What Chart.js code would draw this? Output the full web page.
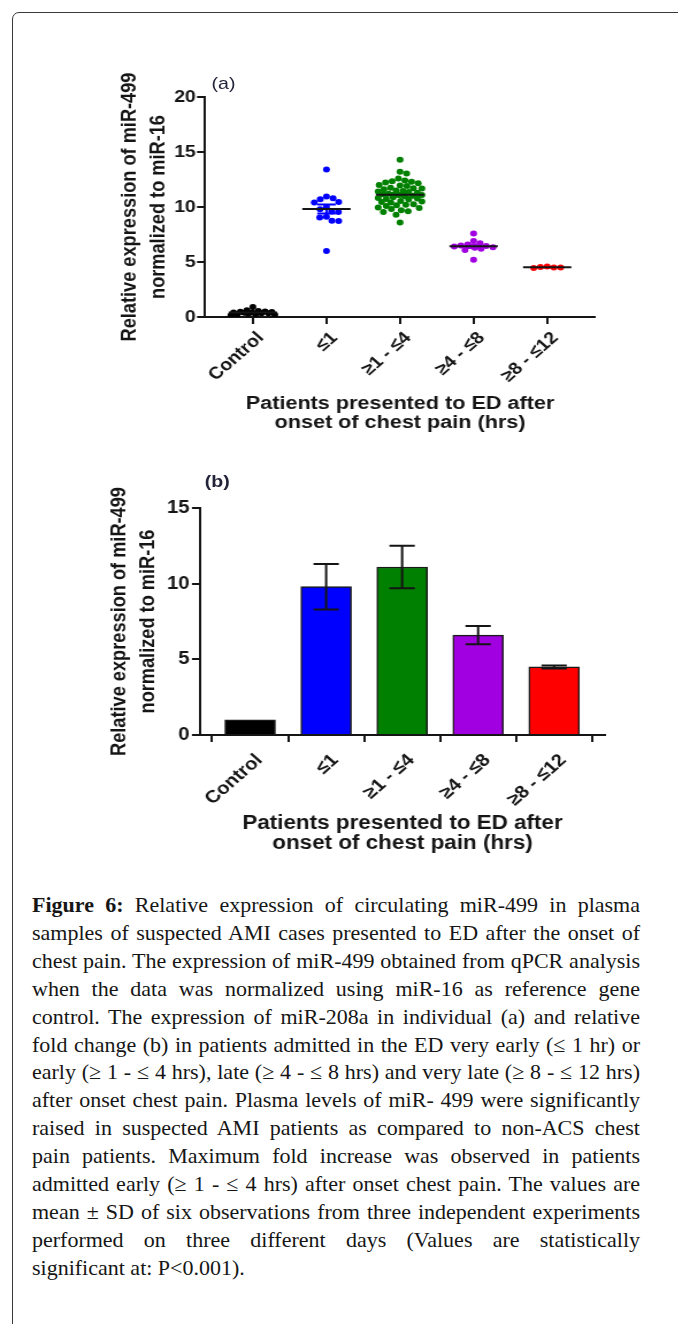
<!DOCTYPE html>
<html>
<head>
<meta charset="utf-8">
<script src="https://cdn.jsdelivr.net/npm/chart.js@4.4.1/dist/chart.umd.min.js"></script>
<style>
  html, body { margin: 0; padding: 0; background: #fff; }
  body { width: 678px; height: 1324px; position: relative; overflow: hidden; }
  #frame {
    position: absolute; left: 12px; top: 12px; width: 720px; height: 1360px;
    border: 1.5px solid #3a3a3a; border-radius: 7px; box-sizing: border-box;
  }
  /* both panels are drawn slightly widened, like the figure artwork */
  .panel { position: absolute; left: 0; width: 590px; transform-origin: 0 0; transform: scaleX(1.15); }
  #panelA { top: 60px; height: 390px; }
  #panelB { top: 470px; height: 400px; }
  .panel canvas { position: absolute; left: 0; top: 0; }
  .tag { position: absolute; font-family: 'Liberation Sans', Arial, sans-serif; color: #23233a; font-size: 17px; line-height: 20px; }
  #tagA { left: 184px; top: 14px; }
  #tagB { left: 178px; top: 2px; font-weight: bold; }
  #caption {
    position: absolute; left: 32px; top: 891px; width: 608px;
    font-family: 'Liberation Serif', 'Times New Roman', serif; font-size: 22px; line-height: 27.9px; color: #161616;
  }
  #caption .ln { white-space: nowrap; text-align: justify; text-align-last: justify; }
  #caption .ln.last { text-align-last: left; }
</style>
</head>
<body>
<div id="frame"></div>

<div class="panel" id="panelA">
  <canvas id="chartA" width="590" height="390"></canvas>
  <div class="tag" id="tagA">(a)</div>
</div>

<div class="panel" id="panelB">
  <canvas id="chartB" width="590" height="400"></canvas>
  <div class="tag" id="tagB">(b)</div>
</div>

<div id="caption">
  <div class="ln"><b>Figure 6:</b> Relative expression of circulating miR-499 in plasma</div>
  <div class="ln">samples of suspected AMI cases presented to ED after the onset of</div>
  <div class="ln">chest pain. The expression of miR-499 obtained from qPCR analysis</div>
  <div class="ln">when the data was normalized using miR-16 as reference gene</div>
  <div class="ln">control. The expression of miR-208a in individual (a) and relative</div>
  <div class="ln">fold change (b) in patients admitted in the ED very early (≤ 1 hr) or</div>
  <div class="ln">early (≥ 1 - ≤ 4 hrs), late (≥ 4 - ≤ 8 hrs) and very late (≥ 8 - ≤ 12 hrs)</div>
  <div class="ln">after onset chest pain. Plasma levels of miR- 499 were significantly</div>
  <div class="ln">raised in suspected AMI patients as compared to non-ACS chest</div>
  <div class="ln">pain patients. Maximum fold increase was observed in patients</div>
  <div class="ln">admitted early (≥ 1 - ≤ 4 hrs) after onset chest pain. The values are</div>
  <div class="ln">mean ± SD of six observations from three independent experiments</div>
  <div class="ln">performed on three different days (Values are statistically</div>
  <div class="ln last">significant at: P&lt;0.001).</div>
</div>

<script>
// ---------------- data ----------------
const categories = ['Control', '≤1', '≥1 - ≤4', '≥4 - ≤8', '≥8 - ≤12'];
const groupColors = ['#000000', '#0000ff', '#008000', '#a100e0', '#ff0000'];

// (a) individual relative expression values per group
const controlValues = [0.92, 0.62, 0.55, 0.5, 0.47, 0.45, 0.42, 0.4,
                       0.38, 0.35, 0.33, 0.3, 0.28, 0.25, 0.2, 0.15];
const upTo1hValues = [13.4, 10.95, 10.8, 10.7, 10.45, 10.4, 10.0, 9.8, 9.6, 9.55,
                      9.12, 9.05, 8.75, 8.72, 6.0];
const from1to4hValues = [14.3, 13.2, 13.05, 12.6, 12.42, 12.35, 12.3, 12.22, 12.15,
                         12.0, 11.95, 11.9, 11.75, 11.7, 11.68, 11.62,
                         11.5, 11.45, 11.4, 11.36, 11.3, 11.2, 11.15, 11.1, 11.08, 11.02, 10.98,
                         10.88, 10.82, 10.78, 10.72, 10.68, 10.55, 10.5, 10.45, 10.4,
                         10.25, 10.2, 10.15, 10.1, 9.95, 9.9, 9.82, 9.7, 9.62, 9.55, 9.3, 8.6];
const from4to8hValues = [7.6, 6.9, 6.7, 6.6, 6.5, 6.45, 6.4, 6.35, 6.3, 6.2, 6.1, 5.2];
const from8to12hValues = [4.6, 4.55, 4.5, 4.5, 4.45];

// (b) relative fold change, mean and SD
const foldMeans = [1.0, 9.8, 11.1, 6.6, 4.5];
const foldSD = [0, 1.5, 1.4, 0.6, 0.1];

const yTicksA = [0, 5, 10, 15, 20];
const yTicksB = [0, 5, 10, 15];

const xTitle = ['Patients presented to ED after', 'onset of chest pain (hrs)'];
const yTitle = ['Relative expression of miR-499', 'normalized to miR-16'];

// ---------------- styling helpers ----------------
const FONT = "'Liberation Sans', Arial, Helvetica, sans-serif";
const INK = '#151515';
const STRETCH = 1.15;   // horizontal widening applied to the panels by CSS

function axisLines(tickLen) {
  return {
    grid: { drawOnChartArea: false, drawTicks: true, tickLength: tickLen, color: INK, lineWidth: 2 },
    border: { display: true, color: INK, width: 2 }
  };
}

// spreads the dots of each group sideways so they do not overlap (bee-swarm),
// keeping every column within a fixed half-width
const swarmPlugin = {
  id: 'swarm',
  afterDatasetsUpdate(chart, args, opts) {
    const gap = opts.spacing;
    const limit = opts.maxHalf;
    chart.data.datasets.forEach((ds, di) => {
      const pts = chart.getDatasetMeta(di).data;
      const order = pts.map((p, k) => k).sort((a, b) => pts[a].y - pts[b].y);
      const placed = [];
      order.forEach((k, n) => {
        const p = pts[k];
        const cands = [0];
        placed.forEach(q => {
          const dy = Math.abs(q.y - p.y);
          if (dy < gap) {
            const w = Math.sqrt(gap * gap - dy * dy) / STRETCH;
            cands.push(q.dx + w, q.dx - w);
          }
        });
        const side = n % 2 ? -1 : 1;
        cands.sort((a, b) => (Math.abs(a) - Math.abs(b)) || (side * (b - a)));
        const dist = (q, c) => Math.hypot((q.dx - c) * STRETCH, q.y - p.y);
        const ok = c => Math.abs(c) <= limit && placed.every(q => dist(q, c) >= gap - 0.01);
        let dx = cands.find(ok);
        if (dx === undefined) {
          // column is full at this height: use the least crowded slot
          let best = 0, bestD = -1;
          for (let c = -limit; c <= limit + 1e-9; c += 0.5) {
            const d = Math.min(...placed.map(q => dist(q, c)));
            if (d > bestD + 1e-6) { best = c; bestD = d; }
          }
          dx = best;
        }
        placed.push({ dx, y: p.y });
        p.x += dx;
      });
    });
  }
};

// mean line (black) with SEM whiskers in the group colour
const meanSemPlugin = {
  id: 'meanSem',
  afterDatasetsDraw(chart, args, opts) {
    const { ctx, scales: { x, y } } = chart;
    chart.data.datasets.forEach((ds, i) => {
      const vals = ds.data.map(d => d.y);
      const n = vals.length;
      const mean = vals.reduce((a, b) => a + b, 0) / n;
      const sd = Math.sqrt(vals.reduce((a, b) => a + (b - mean) ** 2, 0) / (n - 1));
      const sem = sd / Math.sqrt(n);
      const cx = x.getPixelForValue(ds.data[0].x);
      const yt = y.getPixelForValue(mean + sem);
      const yb = y.getPixelForValue(mean - sem);
      const ym = y.getPixelForValue(mean);
      ctx.save();
      ctx.lineWidth = opts.lineWidth;
      ctx.strokeStyle = ds.backgroundColor;
      ctx.beginPath();
      ctx.moveTo(cx, yt); ctx.lineTo(cx, yb);
      ctx.moveTo(cx - opts.capHalf, yt); ctx.lineTo(cx + opts.capHalf, yt);
      ctx.moveTo(cx - opts.capHalf, yb); ctx.lineTo(cx + opts.capHalf, yb);
      ctx.stroke();
      ctx.strokeStyle = INK;
      ctx.beginPath();
      ctx.moveTo(cx - opts.meanHalf, ym); ctx.lineTo(cx + opts.meanHalf, ym);
      ctx.stroke();
      ctx.restore();
    });
  }
};

// SD error bars on top of the bars
const sdBarsPlugin = {
  id: 'sdBars',
  afterDatasetsDraw(chart, args, opts) {
    const { ctx, scales: { x, y } } = chart;
    const ds = chart.data.datasets[0];
    ds.data.forEach((d, i) => {
      const err = ds.errors[i];
      if (!err) return;
      const cx = x.getPixelForValue(d.x);
      const yt = y.getPixelForValue(d.y + err);
      const yb = y.getPixelForValue(d.y - err);
      ctx.save();
      ctx.lineWidth = opts.lineWidth;
      ctx.strokeStyle = INK;
      ctx.beginPath();
      ctx.moveTo(cx, yt); ctx.lineTo(cx, yb);
      ctx.moveTo(cx - opts.capHalf, yt); ctx.lineTo(cx + opts.capHalf, yt);
      ctx.moveTo(cx - opts.capHalf, yb); ctx.lineTo(cx + opts.capHalf, yb);
      ctx.stroke();
      ctx.restore();
    });
  }
};

const groups = [controlValues, upTo1hValues, from1to4hValues, from4to8hValues, from8to12hValues];

// ---------------- (a) individual values ----------------
new Chart(document.getElementById('chartA'), {
  type: 'scatter',
  data: {
    datasets: groups.map((vals, i) => ({
      label: categories[i],
      data: vals.map(v => ({ x: i, y: v })),
      backgroundColor: groupColors[i],
      borderWidth: 0,
      pointRadius: 3,
      pointHoverRadius: 3
    }))
  },
  options: {
    responsive: false,
    animation: false,
    events: [],
    layout: { padding: { left: 101.3, right: 72.6, top: 37, bottom: 17.4 } },
    plugins: {
      legend: { display: false },
      tooltip: { enabled: false },
      swarm: { spacing: 6.8, maxHalf: 19 },
      meanSem: { lineWidth: 2, capHalf: 8, meanHalf: 21 }
    },
    scales: {
      x: {
        type: 'linear', min: -0.65, max: 4.65,
        afterBuildTicks: s => { s.ticks = categories.map((c, i) => ({ value: i })); },
        afterFit: s => { s.height = 115.6; },
        ticks: {
          callback: v => categories[v], autoSkip: false, minRotation: 45, maxRotation: 45,
          labelOffset: 7, padding: 4, color: INK, font: { family: FONT, size: 17, weight: 'bold' }
        },
        title: { display: true, text: xTitle, color: INK, padding: 0,
                 font: { family: FONT, size: 18.8, weight: 'bold', lineHeight: 1.03 } },
        ...axisLines(7)
      },
      y: {
        min: 0, max: 20,
        afterBuildTicks: s => { s.ticks = yTicksA.map(v => ({ value: v })); },
        afterFit: s => { s.width = 77; },
        ticks: { padding: 1, color: INK, font: { family: FONT, size: 17, weight: 'bold' } },
        title: { display: true, text: yTitle, color: INK, padding: 0,
                 font: { family: FONT, size: 18.2, weight: 'bold', lineHeight: 1.335 } },
        ...axisLines(7)
      }
    }
  },
  plugins: [swarmPlugin, meanSemPlugin]
});

// ---------------- (b) relative fold change ----------------
new Chart(document.getElementById('chartB'), {
  type: 'bar',
  data: {
    datasets: [{
      data: foldMeans.map((v, i) => ({ x: i, y: v })),
      errors: foldSD,
      backgroundColor: groupColors,
      borderColor: '#1a1a1a',
      borderWidth: 1.5,
      barThickness: 44
    }]
  },
  options: {
    responsive: false,
    animation: false,
    events: [],
    layout: { padding: { left: 92.1, right: 63.9, top: 38, bottom: 15.9 } },
    plugins: {
      legend: { display: false },
      tooltip: { enabled: false },
      sdBars: { lineWidth: 2, capHalf: 11 }
    },
    scales: {
      x: {
        type: 'linear', min: -0.66, max: 4.67, offset: false,
        afterBuildTicks: s => { s.ticks = categories.map((c, i) => ({ value: i })); },
        afterFit: s => { s.height = 119.1; },
        ticks: {
          callback: v => categories[v], autoSkip: false, minRotation: 45, maxRotation: 45,
          labelOffset: 8, padding: 8, color: INK, font: { family: FONT, size: 17.6, weight: 'bold' }
        },
        title: { display: true, text: xTitle, color: INK, padding: 0,
                 font: { family: FONT, size: 19.5, weight: 'bold', lineHeight: 1.04 } },
        ...axisLines(7)
      },
      y: {
        min: 0, max: 15,
        afterBuildTicks: s => { s.ticks = yTicksB.map(v => ({ value: v })); },
        afterFit: s => { s.width = 81.8; },
        ticks: { padding: 2, color: INK, font: { family: FONT, size: 17.6, weight: 'bold' } },
        title: { display: true, text: yTitle, color: INK, padding: 0,
                 font: { family: FONT, size: 18.2, weight: 'bold', lineHeight: 1.34 } },
        ...axisLines(7)
      }
    }
  },
  plugins: [sdBarsPlugin]
});
</script>
</body>
</html>
